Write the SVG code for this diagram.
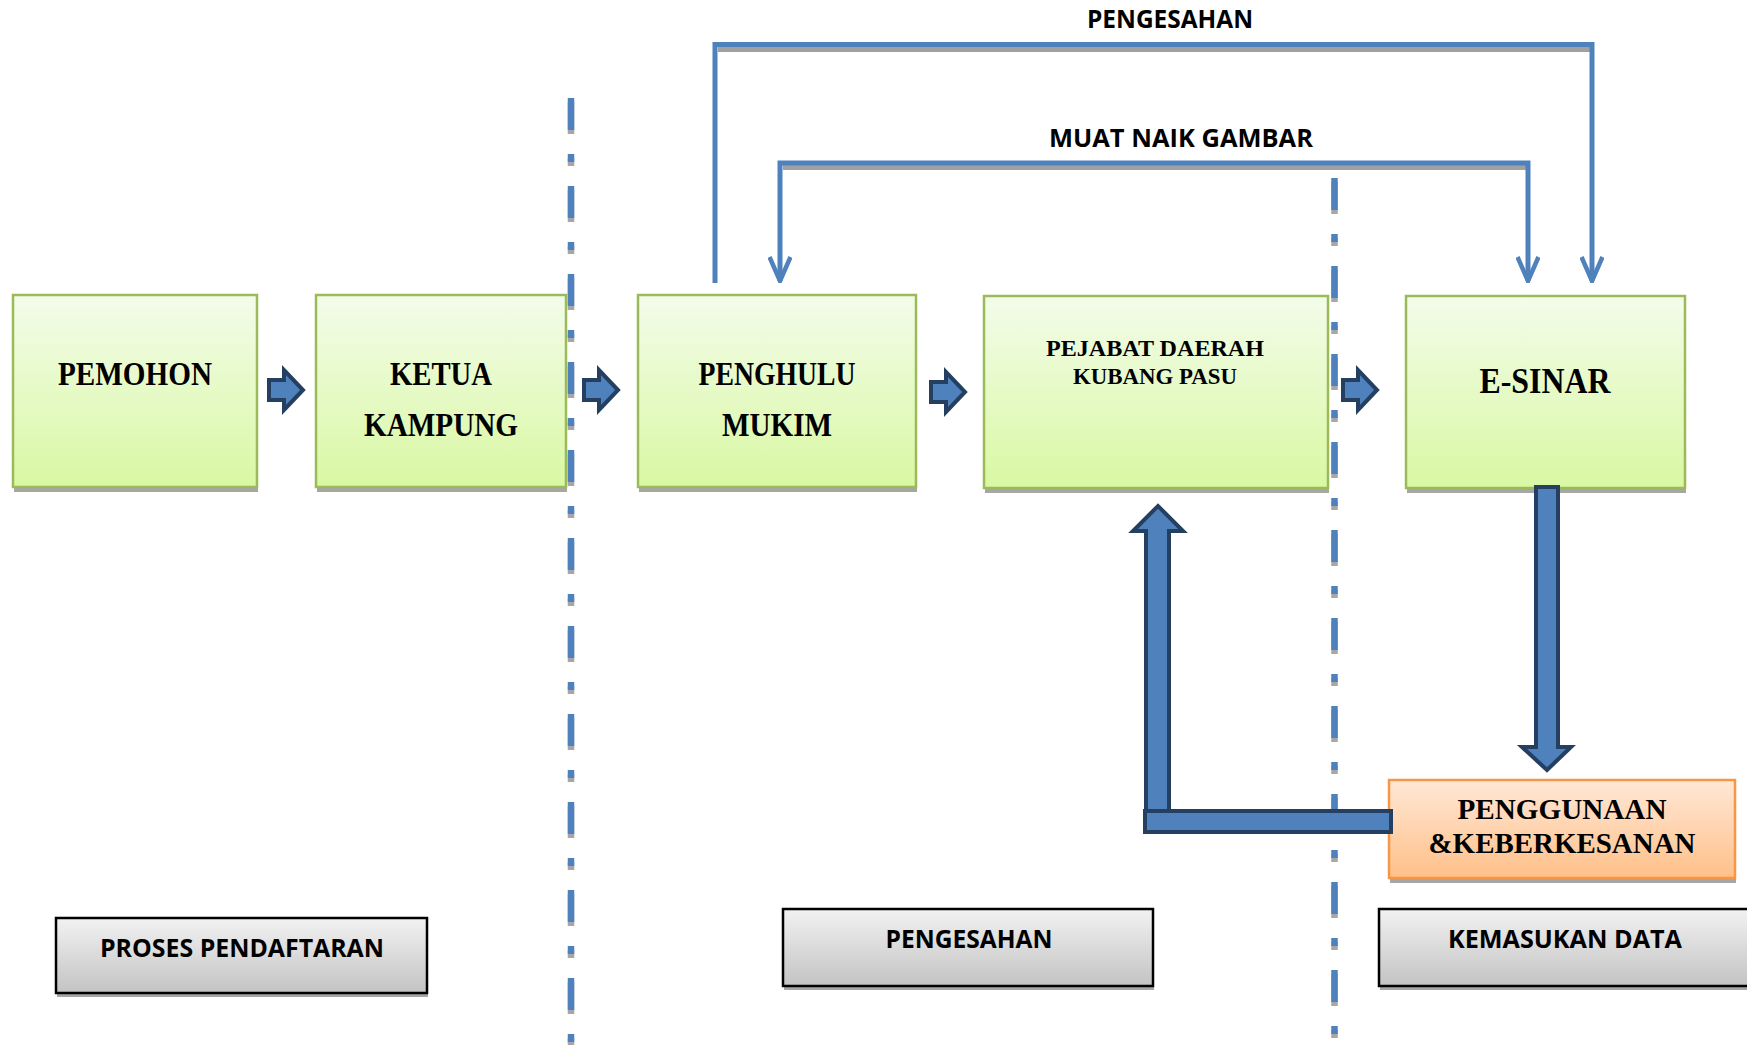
<svg xmlns="http://www.w3.org/2000/svg" width="1747" height="1045" viewBox="0 0 1747 1045">
<defs>
<linearGradient id="gGreen" x1="0" y1="0" x2="0" y2="1"><stop offset="0" stop-color="#F3FCEA"/><stop offset="1" stop-color="#D9F8A3"/></linearGradient>
<linearGradient id="gOrange" x1="0" y1="0" x2="0" y2="1"><stop offset="0" stop-color="#FFE8D6"/><stop offset="1" stop-color="#FFC089"/></linearGradient>
<linearGradient id="gGrey" x1="0" y1="0" x2="0" y2="1"><stop offset="0" stop-color="#F2F2F2"/><stop offset="1" stop-color="#C3C3C3"/></linearGradient>
<marker id="vArrow" viewBox="0 0 28 24" refX="26" refY="12" markerWidth="28" markerHeight="24" markerUnits="userSpaceOnUse" orient="auto-start-reverse">
<path d="M2,1.5 L26,12 L2,22.5" fill="none" stroke="#4F81BD" stroke-width="4.5" stroke-linejoin="miter"/>
</marker>
<style>
.shadow{fill:#A6A6A6}
.green{fill:url(#gGreen);stroke:#9BBB59;stroke-width:2.5}
.orange{fill:url(#gOrange);stroke:#F79646;stroke-width:2.5}
.grey{fill:url(#gGrey);stroke:#000;stroke-width:2.5}
.serif{font-family:"Liberation Serif","Times New Roman",serif;font-weight:bold;fill:#000;text-anchor:middle}
.sans{font-family:"Open Sans","Liberation Sans",sans-serif;font-weight:bold;fill:#000;text-anchor:middle;font-size:25px}
.conn{fill:none;stroke:#4F81BD;stroke-width:5}
.connShadow{fill:none;stroke:#A0A0A0;stroke-width:5}
.dashd{fill:none;stroke:#4F81BD;stroke-width:6.5;stroke-dasharray:32 24 8 24}
.dashShadow{fill:none;stroke:#A6A6A6;stroke-width:6.5;stroke-dasharray:32 24 8 24}
.block{fill:#4F81BD;stroke:#243F60;stroke-width:4;stroke-linejoin:miter}
</style>
</defs>
<rect width="1747" height="1045" fill="#fff"/>

<g id="node-pemohon">
<rect class="shadow" x="14" y="300" width="244" height="192"/>
<rect class="green" x="13" y="295" width="244" height="192"/>
<text class="serif" x="135" y="385" font-size="33" textLength="154" lengthAdjust="spacingAndGlyphs">PEMOHON</text>
</g>
<g id="node-ketua-kampung">
<rect class="shadow" x="317" y="300" width="250" height="192"/>
<rect class="green" x="316" y="295" width="250" height="192"/>
<text class="serif" x="441" y="385" font-size="33" textLength="102" lengthAdjust="spacingAndGlyphs">KETUA</text>
<text class="serif" x="441" y="436" font-size="33" textLength="154" lengthAdjust="spacingAndGlyphs">KAMPUNG</text>
</g>
<g id="node-penghulu-mukim">
<rect class="shadow" x="639" y="300" width="278" height="192"/>
<rect class="green" x="638" y="295" width="278" height="192"/>
<text class="serif" x="777" y="385" font-size="33" textLength="157" lengthAdjust="spacingAndGlyphs">PENGHULU</text>
<text class="serif" x="777" y="436" font-size="33" textLength="110" lengthAdjust="spacingAndGlyphs">MUKIM</text>
</g>
<g id="node-pejabat-daerah">
<rect class="shadow" x="985" y="301" width="344" height="192"/>
<rect class="green" x="984" y="296" width="344" height="192"/>
<text class="serif" x="1155" y="356" font-size="23" textLength="218" lengthAdjust="spacingAndGlyphs">PEJABAT DAERAH</text>
<text class="serif" x="1155" y="384" font-size="23" textLength="164" lengthAdjust="spacingAndGlyphs">KUBANG PASU</text>
</g>
<g id="node-e-sinar">
<rect class="shadow" x="1407" y="301" width="279" height="192"/>
<rect class="green" x="1406" y="296" width="279" height="192"/>
<text class="serif" x="1545" y="393" font-size="35" textLength="131" lengthAdjust="spacingAndGlyphs">E-SINAR</text>
</g>
<g id="node-penggunaan">
<rect class="shadow" x="1390" y="785" width="346" height="98"/>
<rect class="orange" x="1389" y="780" width="346" height="98"/>
<text class="serif" x="1562" y="819" font-size="29" textLength="209" lengthAdjust="spacingAndGlyphs">PENGGUNAAN</text>
<text class="serif" x="1562" y="853" font-size="30" textLength="267" lengthAdjust="spacingAndGlyphs">&amp;KEBERKESANAN</text>
</g>
<g id="label-proses-pendaftaran">
<rect class="shadow" x="57" y="922" width="371" height="75"/>
<rect class="grey" x="56" y="918" width="371" height="75"/>
<text class="sans" x="242" y="957" textLength="284" lengthAdjust="spacingAndGlyphs">PROSES PENDAFTARAN</text>
</g>
<g id="label-pengesahan">
<rect class="shadow" x="784" y="913" width="370" height="77"/>
<rect class="grey" x="783" y="909" width="370" height="77"/>
<text class="sans" x="969" y="948" textLength="167" lengthAdjust="spacingAndGlyphs">PENGESAHAN</text>
</g>
<g id="label-kemasukan-data">
<rect class="shadow" x="1380" y="913" width="380" height="77"/>
<rect class="grey" x="1379" y="909" width="380" height="77"/>
<text class="sans" x="1565" y="948" textLength="234" lengthAdjust="spacingAndGlyphs">KEMASUKAN DATA</text>
</g>

<g id="dividers">
<path class="dashShadow" d="M571,102 V1045"/>
<path class="dashd" d="M571,98 V1045"/>
<path class="dashShadow" d="M1334.5,182 V1045"/>
<path class="dashd" d="M1334.5,178 V1045"/>
</g>

<g id="connectors">
<path class="connShadow" d="M718,49.5 H1592"/>
<path class="connShadow" d="M783,167.5 H1528"/>
<path id="conn-pengesahan" class="conn" d="M715,283 V44.5 H1592 V281" marker-end="url(#vArrow)"/>
<path id="conn-muat-naik" class="conn" d="M780,281 V163 H1528 V281" marker-start="url(#vArrow)" marker-end="url(#vArrow)"/>
<text class="sans" x="1170" y="28" textLength="166" lengthAdjust="spacingAndGlyphs">PENGESAHAN</text>
<text class="sans" x="1181" y="147" textLength="264" lengthAdjust="spacingAndGlyphs">MUAT NAIK GAMBAR</text>
<path class="block" d="M269,380 H284 V370 L303,390 L284,410 V400 H269 Z"/>
<path class="block" d="M584,380 H599 V370 L618,390 L599,410 V400 H584 Z"/>
<path class="block" d="M931,382 H946 V372 L965,392 L946,412 V402 H931 Z"/>
<path class="block" d="M1343,380 H1358 V370 L1377,390 L1358,410 V400 H1343 Z"/>
<path class="block" d="M1536,487 H1558 V747 H1571 L1547,770 L1522,747 H1536 Z"/>
<path class="block" d="M1146,832 V531 H1133 L1158,506 L1183,531 H1169 V832 Z"/>
<rect class="block" x="1145" y="811" width="246" height="21"/>
</g>
</svg>
